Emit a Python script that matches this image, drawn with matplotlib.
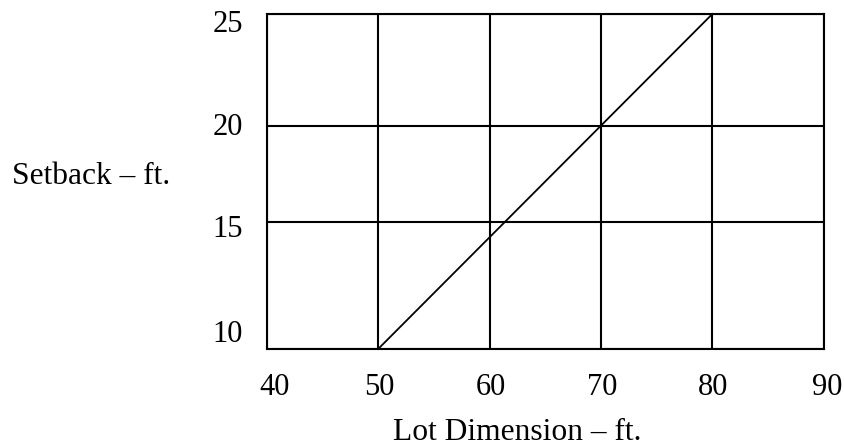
import matplotlib
matplotlib.use("Agg")
import matplotlib.pyplot as plt
import matplotlib.transforms as mtransforms
import numpy as np

# chart values
LOT_DIMENSION = [50, 80]
SETBACK = [10, 25]
X_TICKS = [40, 50, 60, 70, 80, 90]
Y_TICKS = [10, 15, 20, 25]

# the printed grid is not evenly spaced: where each setback row sits (0..1 of the axis height)
Y_ROW_FRAC = [0.0, 0.380, 0.666, 1.0]

FONT_PT = 22
LABEL_PT = 22.7
DPI = 100


def forward(y):
    return np.interp(y, Y_TICKS, Y_ROW_FRAC)


def inverse(v):
    return np.interp(v, Y_ROW_FRAC, Y_TICKS)


def shift(fig, dx_px, dy_px):
    return mtransforms.ScaledTranslation(dx_px / DPI, -dy_px / DPI, fig.dpi_scale_trans)


def main() -> None:
    plt.rcParams.update(
        {
            "font.family": ["Liberation Serif", "DejaVu Serif"],
            "font.size": FONT_PT,
        }
    )

    fig = plt.figure(figsize=(8.44, 4.47), dpi=DPI)
    ax = fig.add_axes([0.316, 0.2192, 0.976 - 0.316, 0.9687 - 0.2192])

    ax.set_yscale("function", functions=(forward, inverse))
    ax.set_xlim(X_TICKS[0], X_TICKS[-1])
    ax.set_ylim(Y_TICKS[0], Y_TICKS[-1])

    ax.set_xticks(X_TICKS)
    ax.set_yticks(Y_TICKS)
    ax.set_xticklabels([str(v) for v in X_TICKS])
    ax.set_yticklabels([str(v) for v in Y_TICKS])
    ax.minorticks_off()
    ax.tick_params(axis="both", length=0, labelsize=FONT_PT)
    ax.tick_params(axis="x", pad=17)
    ax.tick_params(axis="y", pad=17)

    # small nudges so labels sit where the printed ones do
    x_nudge = {40: 8, 90: 3}
    for tick, label in zip(X_TICKS, ax.get_xticklabels()):
        label.set_transform(label.get_transform() + shift(fig, x_nudge.get(tick, 1), 0))
    y_nudge = {10: -18, 15: 4, 20: -2, 25: 7}
    for tick, label in zip(Y_TICKS, ax.get_yticklabels()):
        label.set_transform(label.get_transform() + shift(fig, 0, y_nudge[tick]))

    ax.grid(True, color="black", linewidth=1.5, zorder=1)
    ax.set_axisbelow(True)
    for spine in ax.spines.values():
        spine.set_linewidth(1.5)
        spine.set_color("black")

    ax.plot(LOT_DIMENSION, SETBACK, color="black", linewidth=1.3, zorder=3, clip_on=False)

    fig.text(517 / 844, 1 - 440 / 447, "Lot Dimension \u2013 ft.", ha="center", va="baseline",
             fontsize=LABEL_PT)
    fig.text(12 / 844, 1 - 184 / 447, "Setback \u2013 ft.", ha="left", va="baseline",
             fontsize=LABEL_PT)

    fig.savefig("out.png", dpi=DPI, facecolor="white")
    plt.close(fig)


if __name__ == "__main__":
    main()
